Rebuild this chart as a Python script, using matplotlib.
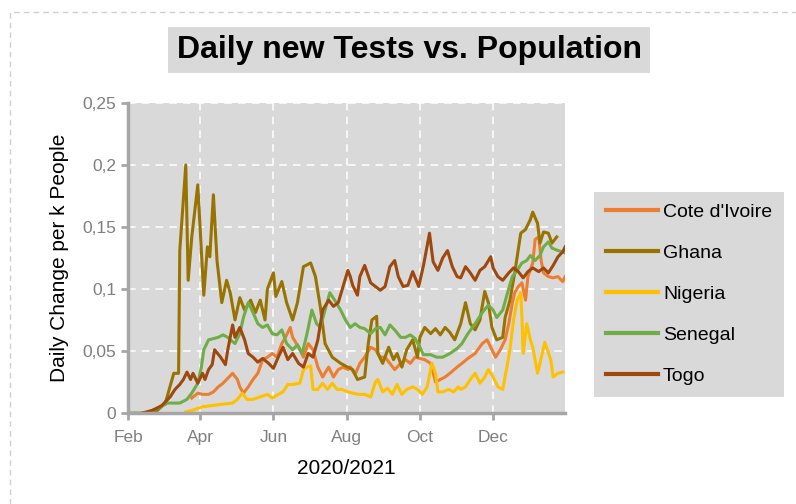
#!/usr/bin/env python3
"""Daily new tests vs. population for five West African countries."""

import pandas as pd
import matplotlib.pyplot as plt
import matplotlib.dates as mdates
from matplotlib.patches import Rectangle
from matplotlib.ticker import FuncFormatter

plt.rcParams['font.family'] = ['Liberation Sans', 'DejaVu Sans']

START = pd.Timestamp('2020-02-01')

# Values: day offset from 1 Feb 2020, tests per k people
cote_days = [53, 58, 62, 67, 71, 75, 79, 83, 87, 91, 93, 96, 100, 104, 108, 112, 116, 120, 124,
             128, 131, 135, 137, 142, 146, 150, 154, 158, 162, 167, 171, 175, 179, 183, 185, 189,
             193, 197, 202, 206, 210, 214, 218, 222, 227, 231, 235, 239, 243, 247, 252, 256, 260,
             264, 268, 274, 278, 283, 289, 295, 299, 302, 306, 310, 314, 317, 320, 322, 325, 328,
             331, 333, 337, 339, 342, 344, 346, 350, 354, 358, 362, 364]
cote_vals = [0.012, 0.016, 0.015, 0.015, 0.017, 0.021, 0.024, 0.028, 0.032, 0.027, 0.021, 0.016,
             0.021, 0.027, 0.032, 0.043, 0.045, 0.048, 0.045, 0.056, 0.061, 0.069, 0.061, 0.053,
             0.045, 0.056, 0.051, 0.037, 0.029, 0.037, 0.029, 0.035, 0.037, 0.035, 0.037, 0.031,
             0.040, 0.045, 0.053, 0.051, 0.045, 0.045, 0.040, 0.035, 0.040, 0.043, 0.040, 0.045,
             0.044, 0.043, 0.040, 0.025, 0.027, 0.029, 0.032, 0.037, 0.040, 0.044, 0.048, 0.056,
             0.059, 0.053, 0.045, 0.051, 0.059, 0.072, 0.089, 0.097, 0.102, 0.105, 0.091, 0.110,
             0.121, 0.140, 0.142, 0.123, 0.113, 0.110, 0.109, 0.110, 0.106, 0.110]

ghana_days = [22, 31, 38, 42, 43, 48, 50, 53, 58, 60, 63, 66, 68, 71, 74, 78, 82, 85, 89, 93, 97,
              102, 106, 110, 114, 116, 121, 123, 128, 132, 137, 141, 146, 152, 156, 160, 164, 170,
              177, 183, 187, 191, 197, 200, 203, 207, 208, 212, 217, 221, 224, 228, 232, 237, 241,
              243, 247, 252, 256, 260, 264, 268, 272, 277, 281, 285, 289, 293, 297, 300, 303, 307,
              312, 314, 318, 322, 327, 331, 335, 337, 341, 343, 346, 350, 353, 357]
ghana_vals = [0.0, 0.008, 0.032, 0.032, 0.131, 0.200, 0.107, 0.142, 0.184, 0.148, 0.095, 0.134,
              0.126, 0.176, 0.123, 0.089, 0.107, 0.097, 0.075, 0.093, 0.083, 0.091, 0.081, 0.091,
              0.075, 0.100, 0.113, 0.094, 0.106, 0.089, 0.075, 0.089, 0.118, 0.121, 0.110, 0.086,
              0.056, 0.045, 0.040, 0.037, 0.035, 0.027, 0.029, 0.056, 0.075, 0.078, 0.048, 0.040,
              0.053, 0.043, 0.048, 0.037, 0.051, 0.059, 0.045, 0.061, 0.069, 0.064, 0.068, 0.063,
              0.069, 0.065, 0.059, 0.072, 0.089, 0.072, 0.067, 0.075, 0.098, 0.089, 0.069, 0.059,
              0.061, 0.077, 0.091, 0.113, 0.145, 0.148, 0.156, 0.162, 0.153, 0.137, 0.146, 0.145,
              0.137, 0.142]

nigeria_days = [48, 53, 62, 70, 78, 87, 91, 95, 99, 104, 110, 116, 120, 125, 129, 133, 137, 143,
                146, 149, 152, 154, 158, 162, 166, 170, 174, 178, 183, 187, 192, 197, 202, 206,
                208, 212, 216, 220, 224, 228, 232, 237, 241, 245, 249, 253, 256, 258, 262, 267,
                271, 275, 277, 281, 285, 289, 293, 297, 300, 304, 308, 312, 316, 318, 321, 324,
                327, 328, 329, 332, 335, 337, 341, 343, 347, 352, 354, 358, 362]
nigeria_vals = [0.001, 0.002, 0.005, 0.006, 0.007, 0.008, 0.011, 0.016, 0.011, 0.011, 0.013,
                0.015, 0.012, 0.015, 0.017, 0.023, 0.023, 0.024, 0.035, 0.037, 0.038, 0.019,
                0.019, 0.024, 0.019, 0.024, 0.019, 0.019, 0.017, 0.016, 0.015, 0.015, 0.013,
                0.025, 0.027, 0.017, 0.020, 0.015, 0.023, 0.015, 0.019, 0.021, 0.019, 0.015,
                0.021, 0.040, 0.032, 0.017, 0.017, 0.019, 0.017, 0.021, 0.019, 0.021, 0.027,
                0.032, 0.024, 0.029, 0.035, 0.029, 0.021, 0.019, 0.040, 0.051, 0.075, 0.091,
                0.097, 0.077, 0.048, 0.072, 0.059, 0.053, 0.032, 0.040, 0.057, 0.043, 0.029,
                0.032, 0.033]

senegal_days = [2, 14, 25, 33, 43, 49, 53, 58, 61, 63, 67, 71, 75, 79, 83, 85, 89, 93, 96, 100,
                104, 108, 112, 116, 120, 124, 128, 132, 137, 141, 145, 149, 153, 157, 160, 164,
                168, 172, 177, 181, 185, 189, 193, 197, 202, 206, 210, 214, 218, 222, 227, 231,
                235, 239, 243, 246, 252, 257, 262, 268, 274, 278, 283, 289, 295, 300, 304, 307,
                312, 316, 320, 324, 328, 332, 335, 339, 343, 346, 350, 353, 358, 362, 364]
senegal_vals = [0.0, 0.0, 0.004, 0.008, 0.008, 0.011, 0.016, 0.024, 0.037, 0.051, 0.059, 0.060,
                0.061, 0.063, 0.061, 0.059, 0.056, 0.064, 0.077, 0.089, 0.081, 0.072, 0.069,
                0.071, 0.064, 0.063, 0.067, 0.056, 0.051, 0.055, 0.048, 0.064, 0.083, 0.072,
                0.069, 0.083, 0.097, 0.091, 0.083, 0.075, 0.069, 0.072, 0.069, 0.068, 0.064,
                0.068, 0.069, 0.063, 0.071, 0.067, 0.061, 0.061, 0.063, 0.060, 0.053, 0.047,
                0.047, 0.045, 0.045, 0.048, 0.052, 0.056, 0.064, 0.072, 0.081, 0.087, 0.083,
                0.077, 0.083, 0.097, 0.110, 0.115, 0.121, 0.123, 0.127, 0.123, 0.127, 0.134,
                0.138, 0.133, 0.131, 0.130, 0.129]

togo_days = [12, 20, 28, 35, 39, 43, 46, 49, 52, 54, 58, 62, 64, 67, 70, 72, 77, 81, 83, 87, 89,
             93, 97, 100, 104, 108, 112, 117, 121, 125, 129, 133, 137, 142, 146, 150, 154, 158,
             162, 167, 171, 175, 179, 183, 185, 187, 191, 193, 197, 202, 206, 210, 214, 218, 222,
             225, 229, 233, 237, 242, 246, 251, 254, 258, 262, 266, 270, 274, 277, 281, 285, 289,
             293, 297, 302, 304, 308, 312, 317, 321, 325, 329, 333, 337, 342, 346, 350, 354, 358,
             362, 364]
togo_vals = [0.0, 0.002, 0.006, 0.013, 0.019, 0.023, 0.027, 0.033, 0.027, 0.032, 0.024, 0.032,
             0.027, 0.035, 0.039, 0.051, 0.045, 0.039, 0.051, 0.071, 0.061, 0.069, 0.059, 0.048,
             0.045, 0.041, 0.044, 0.040, 0.036, 0.045, 0.053, 0.043, 0.048, 0.040, 0.037, 0.048,
             0.045, 0.059, 0.083, 0.091, 0.086, 0.089, 0.102, 0.115, 0.110, 0.103, 0.095, 0.110,
             0.119, 0.105, 0.102, 0.099, 0.102, 0.118, 0.123, 0.110, 0.102, 0.103, 0.114, 0.102,
             0.119, 0.145, 0.122, 0.115, 0.125, 0.131, 0.118, 0.110, 0.109, 0.118, 0.113, 0.107,
             0.115, 0.118, 0.126, 0.117, 0.110, 0.107, 0.113, 0.117, 0.114, 0.109, 0.114, 0.117,
             0.114, 0.117, 0.113, 0.119, 0.126, 0.130, 0.134]

countries = ["Cote d'Ivoire", 'Ghana', 'Nigeria', 'Senegal', 'Togo']
colors = ['#ED7D31', '#997300', '#FFC000', '#70AD47', '#9E480E']
y_ticks = [0, 0.05, 0.1, 0.15, 0.2, 0.25]
x_ticks = ['2020-02-01', '2020-04-01', '2020-06-01', '2020-08-01', '2020-10-01', '2020-12-01']


def to_dates(days):
    return START + pd.to_timedelta(days, unit='D')


def main():
    series = [
        (cote_days, cote_vals),
        (ghana_days, ghana_vals),
        (nigeria_days, nigeria_vals),
        (senegal_days, senegal_vals),
        (togo_days, togo_vals),
    ]

    fig = plt.figure(figsize=(7.96, 5.04), dpi=100)
    ax = fig.add_axes([0.161, 0.1806, 0.549, 0.615])
    ax.set_facecolor('#d9d9d9')

    # dashed outer frame (only left and top edges fall inside the canvas)
    fig.patches.append(Rectangle((10 / 796, -0.5), 2, 1.5 - 12 / 504,
                                 transform=fig.transFigure, fill=False,
                                 edgecolor='#d0d0d0', linestyle=(0, (4, 3)), linewidth=1))

    for (days, vals), name, color in zip(series, countries, colors):
        ax.plot(to_dates(days), vals, color=color, linewidth=2.2, label=name,
                solid_joinstyle='round')

    ax.set_xlim(START, START + pd.Timedelta(days=364))
    ax.set_ylim(0, 0.25)
    ax.set_xticks(pd.to_datetime(x_ticks))
    ax.xaxis.set_major_formatter(mdates.DateFormatter('%b'))
    ax.set_yticks(y_ticks)
    ax.yaxis.set_major_formatter(FuncFormatter(lambda v, _: f'{v:g}'.replace('.', ',')))

    ax.grid(True, color='white', linestyle=(0, (5, 4)), linewidth=1.1)
    ax.set_axisbelow(True)
    for side in ['top', 'right']:
        ax.spines[side].set_visible(False)
    for side in ['left', 'bottom']:
        ax.spines[side].set_color('#a6a6a6')
        ax.spines[side].set_linewidth(2.5)
    ax.tick_params(colors='#a6a6a6', width=2, length=5, labelcolor='#7f7f7f',
                   labelsize=12.5)
    ax.tick_params(axis='x', pad=7)

    ax.set_xlabel('2020/2021', fontsize=15, labelpad=10)
    ax.set_ylabel('Daily Change per k People', fontsize=15, labelpad=10)

    fig.text(0.514, 0.901, 'Daily new Tests vs. Population', ha='center', va='center',
             fontsize=23, fontweight='bold',
             bbox=dict(facecolor='#d9d9d9', edgecolor='none', pad=6))

    leg = fig.legend(loc='upper left', bbox_to_anchor=(594 / 796, 1 - 192 / 504),
                     frameon=True, fancybox=False, fontsize=14, handlelength=2.7,
                     handletextpad=0.25, labelspacing=1.2, borderpad=0.6,
                     borderaxespad=0)
    leg.get_frame().set_facecolor('#d9d9d9')
    leg.get_frame().set_edgecolor('none')
    leg.get_frame().set_alpha(1)
    for line in leg.get_lines():
        line.set_linewidth(3)

    fig.savefig('out.png', dpi=100)
    plt.close(fig)


if __name__ == '__main__':
    main()
